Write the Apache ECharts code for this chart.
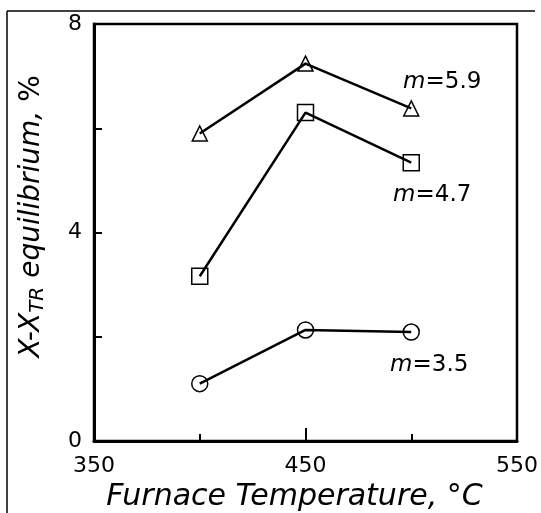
<!DOCTYPE html>
<html>
<head>
<meta charset="utf-8">
<script src="https://cdn.jsdelivr.net/npm/echarts@6/dist/echarts.min.js"></script>
<style>
  html, body { margin: 0; padding: 0; background: #fff; }
  #chart { width: 541px; height: 513px; }
</style>
</head>
<body>
<div id="chart"></div>
<script>
// furnace temperatures, °C
const temps = [400, 450, 500];
// X - X_TR equilibrium, %
const m59 = [5.9, 7.24, 6.38];
const m47 = [3.16, 6.3, 5.34];
const m35 = [1.1, 2.13, 2.09];
const xLabels = [350, 450, 550];
const yLabels = [0, 4, 8];

const font = 'DejaVu Sans';
const chart = echarts.init(document.getElementById('chart'));

let pairs = (vals) => temps.map((t, i) => [t, vals[i]]);

let makeSeries = (name, vals, symbol, size, offset) => ({
  name: name,
  type: 'line',
  data: pairs(vals),
  symbol: symbol,
  symbolSize: size,
  showAllSymbol: true,
  lineStyle: { color: '#000', width: 2.5 },
  itemStyle: { color: 'rgba(0,0,0,0)', borderColor: '#000', borderWidth: 1.5 },
  endLabel: {
    show: true,
    formatter: '{i|m}=' + name,
    align: 'center',
    verticalAlign: 'middle',
    offset: offset,
    color: '#000',
    fontFamily: font,
    fontSize: 23,
    rich: { i: { fontStyle: 'italic', fontFamily: font, fontSize: 23, color: '#000' } }
  },
  z: 3
});

const option = {
  backgroundColor: '#fff',
  animation: false,
  grid: {
    left: 94, right: 24, top: 24, bottom: 72,
    outerBoundsMode: 'none',
    show: true, borderColor: '#000', borderWidth: 2.5
  },
  xAxis: [
    {
      type: 'value', min: 350, max: 550, interval: 50,
      axisLine: { lineStyle: { color: '#000', width: 3 } },
      axisTick: { inside: true, length: 7, lineStyle: { color: '#000', width: 2 } },
      axisLabel: {
        color: '#000', fontFamily: font, fontSize: 22, margin: 14,
        formatter: (v) => xLabels.includes(v) ? String(v) : ''
      },
      splitLine: { show: false },
      name: 'Furnace Temperature, °C',
      nameLocation: 'middle',
      nameGap: 35,
      nameTextStyle: {
        color: '#000', fontFamily: font, fontSize: 30, fontStyle: 'italic',
        padding: [0, 22, 0, 0]
      }
    },
    {
      type: 'value', min: 350, max: 550, position: 'bottom',
      axisLine: { show: false },
      axisTick: { inside: true, length: 13, customValues: [450], lineStyle: { color: '#000', width: 2 } },
      axisLabel: { show: false },
      splitLine: { show: false }
    }
  ],
  yAxis: [
    {
      type: 'value', min: 0, max: 8, interval: 2,
      axisLine: { show: true, lineStyle: { color: '#000', width: 3 } },
      axisTick: { show: true, inside: true, length: 8, lineStyle: { color: '#000', width: 2 } },
      axisLabel: {
        color: '#000', fontFamily: font, fontSize: 22, margin: 12,
        formatter: (v) => yLabels.includes(v) ? String(v) : ''
      },
      splitLine: { show: false },
      name: '{i|X-X}{s|TR}{i| equilibrium,} %',
      nameLocation: 'middle',
      nameGap: 46,
      nameTextStyle: {
        color: '#000', fontFamily: font, fontSize: 28,
        padding: [0, 0, 0, 32],
        rich: {
          i: { fontStyle: 'italic', fontFamily: font, fontSize: 28, color: '#000' },
          s: { fontStyle: 'italic', fontFamily: font, fontSize: 20, color: '#000', padding: [12, 0, 0, 0] }
        }
      }
    }
  ],
  graphic: [
    { type: 'line', shape: { x1: 7, y1: 11, x2: 535, y2: 11 }, style: { stroke: '#000', lineWidth: 1.5 } },
    { type: 'line', shape: { x1: 7, y1: 11, x2: 7, y2: 513 }, style: { stroke: '#000', lineWidth: 1.5 } }
  ],
  series: [
    makeSeries('5.9', m59, 'triangle', 15, [23, -26]),
    makeSeries('4.7', m47, 'rect', 16, [13, 32]),
    makeSeries('3.5', m35, 'circle', 16, [10, 33])
  ]
};

chart.setOption(option);
</script>
</body>
</html>
